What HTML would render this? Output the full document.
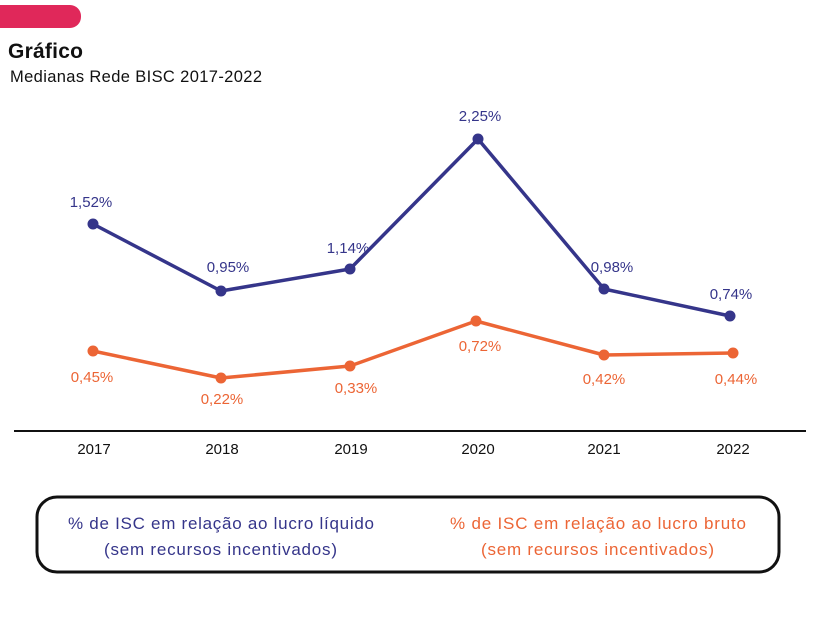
<!DOCTYPE html>
<html><head><meta charset="utf-8"><style>
body{margin:0;width:820px;height:620px;background:#fff;overflow:hidden;font-family:"Liberation Sans",sans-serif}
</style></head><body>
<svg width="820" height="620" xmlns="http://www.w3.org/2000/svg" font-family="Liberation Sans, sans-serif">
<rect x="-20" y="5" width="101" height="23" rx="11" fill="#e0285a"/>
<text x="8" y="58" font-size="21" font-weight="bold" fill="#111" textLength="75">Gráfico</text>
<text x="10" y="82" font-size="16.5" fill="#111" textLength="252">Medianas Rede BISC 2017-2022</text>
<polyline points="93,224 221,291 350,269 478,139 604,289 730,316" fill="none" stroke="#35358a" stroke-width="3.5" stroke-linejoin="round"/>
<polyline points="93,351 221,378 350,366 476,321 604,355 733,353" fill="none" stroke="#ec6535" stroke-width="3.5" stroke-linejoin="round"/>
<g fill="#35358a"><circle cx="93" cy="224" r="5.5"/><circle cx="221" cy="291" r="5.5"/><circle cx="350" cy="269" r="5.5"/><circle cx="478" cy="139" r="5.5"/><circle cx="604" cy="289" r="5.5"/><circle cx="730" cy="316" r="5.5"/></g>
<g fill="#ec6535"><circle cx="93" cy="351" r="5.5"/><circle cx="221" cy="378" r="5.5"/><circle cx="350" cy="366" r="5.5"/><circle cx="476" cy="321" r="5.5"/><circle cx="604" cy="355" r="5.5"/><circle cx="733" cy="353" r="5.5"/></g>
<g font-size="15" fill="#35358a" text-anchor="middle">
<text x="91" y="207">1,52%</text><text x="228" y="272">0,95%</text><text x="348" y="253">1,14%</text><text x="480" y="121">2,25%</text><text x="612" y="272">0,98%</text><text x="731" y="299">0,74%</text></g>
<g font-size="15" fill="#ec6535" text-anchor="middle">
<text x="92" y="382">0,45%</text><text x="222" y="404">0,22%</text><text x="356" y="393">0,33%</text><text x="480" y="351">0,72%</text><text x="604" y="384">0,42%</text><text x="736" y="384">0,44%</text></g>
<line x1="14" y1="431" x2="806" y2="431" stroke="#111" stroke-width="2"/>
<g font-size="15" fill="#111" text-anchor="middle">
<text x="94" y="454">2017</text><text x="222" y="454">2018</text><text x="351" y="454">2019</text><text x="478" y="454">2020</text><text x="604" y="454">2021</text><text x="733" y="454">2022</text></g>
<rect x="37" y="497" width="742" height="75" rx="20" fill="none" stroke="#111" stroke-width="3"/>
<g font-size="17">
<text x="68" y="529" fill="#35358a" textLength="306">% de ISC em relação ao lucro líquido</text>
<text x="104" y="555" fill="#35358a" textLength="233">(sem recursos incentivados)</text>
<text x="450" y="529" fill="#ec6535" textLength="296">% de ISC em relação ao lucro bruto</text>
<text x="481" y="555" fill="#ec6535" textLength="233">(sem recursos incentivados)</text></g>
</svg>
</body></html>
